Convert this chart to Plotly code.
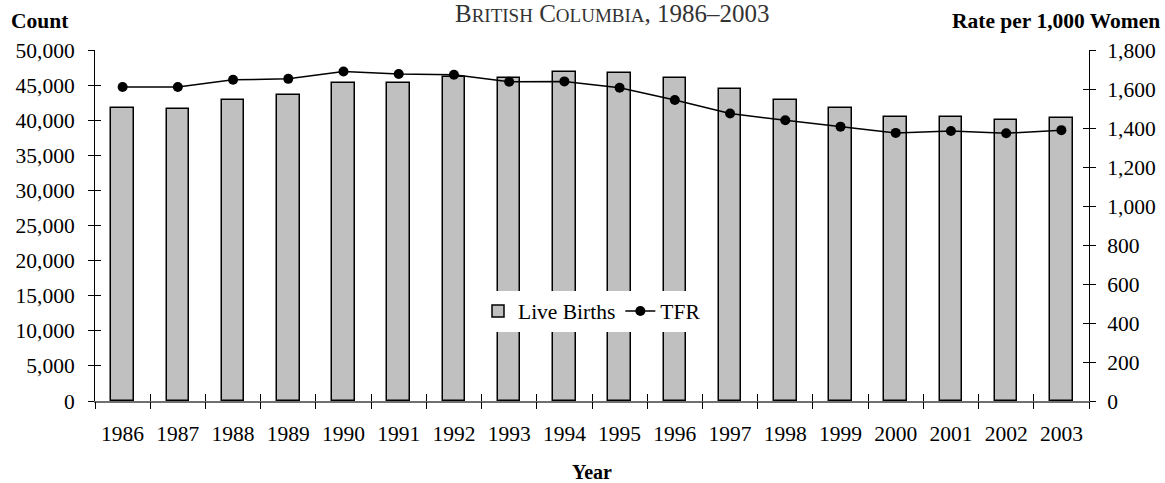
import plotly.graph_objects as go

years = [1986, 1987, 1988, 1989, 1990, 1991, 1992, 1993, 1994,
         1995, 1996, 1997, 1998, 1999, 2000, 2001, 2002, 2003]
live_births = [41700, 41600, 42900, 43600, 45300, 45300, 46100, 46000, 46900,
               46700, 46000, 44400, 42900, 41800, 40500, 40400, 40000, 40300]
tfr = [1610, 1610, 1647, 1652, 1690, 1677, 1673, 1637, 1639,
       1606, 1544, 1474, 1440, 1407, 1375, 1385, 1373, 1389]
count_ticks = list(range(0, 50001, 5000))
rate_ticks = list(range(0, 1801, 200))

SERIF = "Liberation Serif"
TICKFONT = dict(family=SERIF, size=21.5, color="black")
L, R, T, B = 95, 76, 50, 82
PW, PH = 1165 - L - R, 483 - T - B

fig = go.Figure()
fig.add_trace(go.Bar(
    x=years, y=live_births, name="Live Births", width=0.41,
    marker=dict(color="#c0c0c0", line=dict(color="black", width=1.5)),
    yaxis="y"))
fig.add_trace(go.Scatter(
    x=years, y=tfr, name="TFR", mode="lines+markers",
    line=dict(color="black", width=1.5),
    marker=dict(color="black", size=10), yaxis="y2"))
# invisible helper traces so the overlay tick axes (crossing ticks) are drawn
fig.add_trace(go.Scatter(x=years, y=live_births, xaxis="x2", yaxis="y3", mode="markers",
                         marker=dict(opacity=0), showlegend=False, hoverinfo="skip"))
fig.add_trace(go.Scatter(x=years, y=tfr, xaxis="x3", yaxis="y4", mode="markers",
                         marker=dict(opacity=0), showlegend=False, hoverinfo="skip"))

xr = [years[0] - 0.5, years[-1] + 0.5]
bounds = [y - 0.5 for y in years] + [years[-1] + 0.5]

fig.update_layout(
    width=1165, height=483,
    margin=dict(l=L, r=R, t=T, b=B, autoexpand=False),
    paper_bgcolor="white", plot_bgcolor="white",
    showlegend=True,
    legend=dict(orientation="h", x=(592 - L) / PW, xanchor="center",
                y=(401 - 311) / PH, yanchor="middle",
                bgcolor="white", font=dict(family=SERIF, size=21.5, color="black"),
                itemwidth=30, tracegroupgap=0),
    bargap=0,
    xaxis=dict(range=xr, tickmode="array", tickvals=years, ticks="",
               ticklabelstandoff=12, tickfont=TICKFONT, automargin=False,
               showline=True, linecolor="#707070", linewidth=2, showgrid=False,
               zeroline=False,
               title=dict(text="<b>Year</b>", font=dict(family=SERIF, size=20, color="black"),
                          standoff=36)),
    xaxis2=dict(range=xr, overlaying="x", anchor="y", tickmode="array", tickvals=bounds,
                ticks="outside", ticklen=7, tickcolor="black", tickwidth=1, automargin=False,
                showticklabels=False, showline=False, showgrid=False, zeroline=False),
    xaxis3=dict(range=xr, overlaying="x", anchor="y", tickmode="array", tickvals=bounds,
                ticks="inside", ticklen=7, tickcolor="black", tickwidth=1, automargin=False,
                showticklabels=False, showline=False, showgrid=False, zeroline=False),
    yaxis=dict(range=[0, 50000], tickmode="array", tickvals=count_ticks, tickformat=",",
               ticks="outside", ticklen=6, tickcolor="black", tickfont=TICKFONT,
               ticklabelstandoff=9, automargin=False,
               showline=True, linecolor="black", linewidth=1, showgrid=False, zeroline=False),
    yaxis3=dict(range=[0, 50000], overlaying="y", side="left", anchor="x",
                tickmode="array", tickvals=count_ticks, ticks="inside", ticklen=6,
                tickcolor="black", showticklabels=False, showline=False, automargin=False,
                showgrid=False, zeroline=False),
    yaxis2=dict(range=[0, 1800], overlaying="y", side="right", anchor="x",
                tickmode="array", tickvals=rate_ticks, tickformat=",",
                ticks="outside", ticklen=6, tickcolor="black", tickfont=TICKFONT,
                ticklabelstandoff=7, automargin=False,
                showline=True, linecolor="black", linewidth=1, showgrid=False, zeroline=False),
    yaxis4=dict(range=[0, 1800], overlaying="y", side="right", anchor="x",
                tickmode="array", tickvals=rate_ticks, ticks="inside", ticklen=6,
                tickcolor="black", showticklabels=False, showline=False, automargin=False,
                showgrid=False, zeroline=False),
)

title_html = ("B<span style='font-size:19px'>RITISH</span> "
              "C<span style='font-size:19px'>OLUMBIA</span>, 1986–2003")
fig.add_annotation(text=title_html, xref="paper", yref="paper",
                   x=(612 - L) / PW, y=1 + (T - 14) / PH, xanchor="center", yanchor="middle",
                   showarrow=False,
                   font=dict(family=SERIF, size=25, color="#333333"))
fig.add_annotation(text="<b>Count</b>", xref="paper", yref="paper",
                   x=(9 - L) / PW, y=1 + (T - 20.5) / PH, xanchor="left", yanchor="middle",
                   showarrow=False, font=dict(family=SERIF, size=21.5, color="black"))
fig.add_annotation(text="<b>Rate per 1,000 Women</b>", xref="paper", yref="paper",
                   x=(1162 - L) / PW, y=1 + (T - 20.5) / PH, xanchor="right", yanchor="middle",
                   showarrow=False, font=dict(family=SERIF, size=21.5, color="black"))

fig.write_html("out.html", config={"displayModeBar": False},
               post_script="document.body.style.margin='0';")
